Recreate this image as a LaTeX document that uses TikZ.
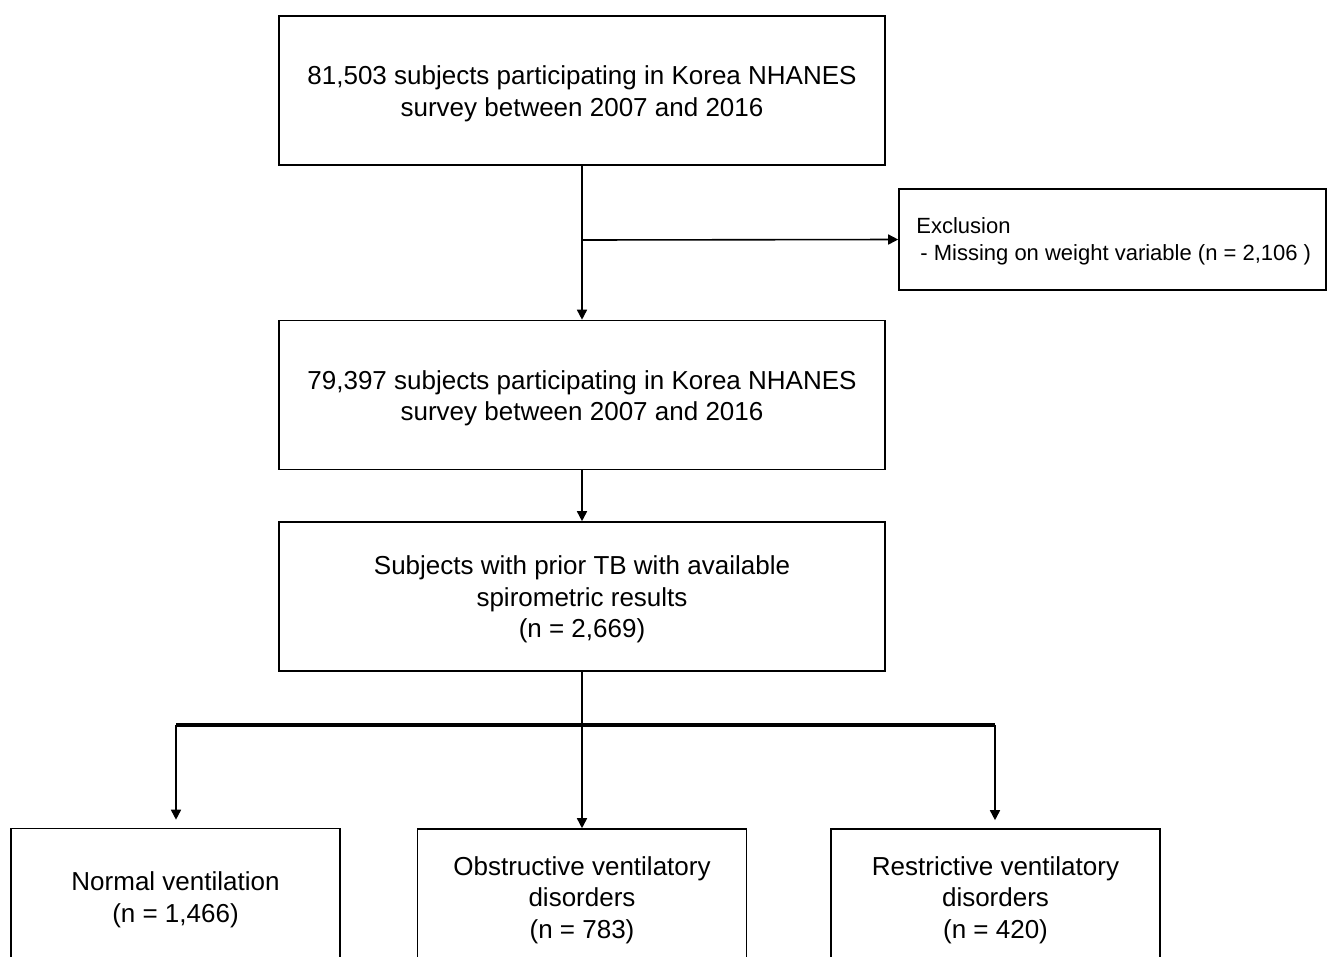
\documentclass[tikz,border=0pt]{standalone}
\usepackage{fontspec}
\setmainfont{Liberation Sans}
\usetikzlibrary{arrows.meta}
\newcommand\upstrut{\rule{0pt}{25pt}}
\newcommand\exstrut{\rule{0pt}{20pt}}
\begin{document}
\begin{tikzpicture}[x=1pt,y=-1pt,
  box/.style={draw,line width=1.6pt,align=center,inner sep=0pt,
    font=\fontsize{26}{31.5}\selectfont},
  bigbox/.style={box,minimum width=606pt,minimum height=149pt},
  smallbox/.style={box,minimum width=329pt,minimum height=136pt},
  exbox/.style={draw,line width=1.6pt,align=left,inner sep=0pt,
    minimum width=427pt,minimum height=101pt,font=\fontsize{22}{27}\selectfont},
  conn/.style={line width=1.6pt,-{Triangle[length=10pt,width=10pt]}},
  bar/.style={line width=3.5pt}]
\useasboundingbox (0,0) rectangle (1327,956);
\clip (0,0) rectangle (1327,956);
\node[bigbox] (b1) at (582,90.5) {\upstrut 81,503 subjects participating in Korea NHANES\\survey between 2007 and 2016};
\node[bigbox] (b2) at (582,395) {\upstrut 79,397 subjects participating in Korea NHANES\\survey between 2007 and 2016};
\node[bigbox] (b3) at (582,596.5) {\upstrut Subjects with prior TB with available\\spirometric results\\(n = 2,669)};
\node[exbox] (ex) at (1112.5,239.5) {\exstrut\hspace*{2.5pt}Exclusion\\\hspace*{6.5pt}- Missing on weight variable (n = 2,106 )};
\node[smallbox] (n1) at (175.5,896.5) {\upstrut Normal ventilation\\(n = 1,466)};
\node[smallbox] (n2) at (582,897) {\upstrut Obstructive ventilatory\\disorders\\(n = 783)};
\node[smallbox] (n3) at (995.5,897) {\upstrut Restrictive ventilatory\\disorders\\(n = 420)};
\coordinate (j1) at (582,240);
\coordinate (jl) at (176,725);
\coordinate (jr) at (995,725);
\draw[conn] (b1.south) -- (b2.north);
\draw[conn] (j1) -- (ex.west);
\draw[conn] (b2.south) -- (b3.north);
\draw[conn] (b3.south) -- (n2.north);
\draw[bar] (jl) -- (jr);
\draw[conn,shorten >=8pt] (jl) -- (jl |- n1.north);
\draw[conn,shorten >=8pt] (jr) -- (jr |- n3.north);
\end{tikzpicture}
\end{document}
